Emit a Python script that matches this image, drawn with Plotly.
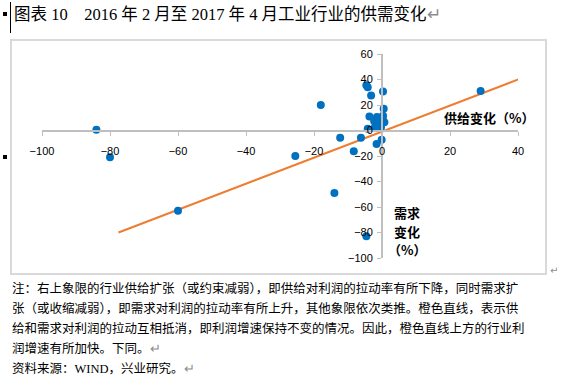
import plotly.graph_objects as go

# ---- data (supply change %, demand change %) ----
supply_change = [-84, -80, -60, -25.5, -18, -14, -12.3, -8.3, -6.2, -4.2, -4.6, -3.2, 0.3,
                 -3.7, 0.5, -1.8, -0.8, 0.2, 0.7, -0.8, -0.3, -4.2, -0.1, -1.6, -4.6, 29,
                 -2.3, -1.5, 0.3, -2.1]
demand_change = [0.5, -21, -63, -20, 20, -49, -5.7, -16.2, -5.7, 34, 35.5, 27.5, 30.6,
                 11, 17, 7.8, 9.2, 9.2, 6.5, 3.9, 2.6, 1.3, -7.3, -10.5, -83, 31,
                 7.3, 10.5, 11.5, 2.5]
line_x = [-77.5, 40.5]
line_y = [-80, 40.5]
x_ticks = [-100, -80, -60, -40, -20, 0, 20, 40]
y_ticks = [-100, -80, -60, -40, -20, 0, 20, 40, 60]

title_text = "图表 10　2016 年 2 月至 2017 年 4 月工业行业的供需变化"
x_title = "供给变化（%）"
y_title_lines = ["需求", "变化", "（%）"]
note_lines = [
    "注：右上象限的行业供给扩张（或约束减弱），即供给对利润的拉动率有所下降，同时需求扩",
    "张（或收缩减弱），即需求对利润的拉动率有所上升，其他象限依次类推。橙色直线，表示供",
    "给和需求对利润的拉动互相抵消，即利润增速保持不变的情况。因此，橙色直线上方的行业利",
    "润增速有所加快。下同。",
    "资料来源：WIND，兴业研究。",
]

W, H = 588, 389
L, R, T, B = 42, 518, 54, 258  # plot area in pixels


def px(x):
    return (x - L) / (R - L)


def py(y):
    return (B - y) / (B - T)


fig = go.Figure()
fig.add_trace(go.Scatter(x=line_x, y=line_y, mode="lines",
                         line=dict(color="#ED7D31", width=2), hoverinfo="skip"))
fig.add_trace(go.Scatter(x=supply_change, y=demand_change, mode="markers",
                         marker=dict(color="#0070C0", size=8)))

axis_font = dict(family="Arial, Liberation Sans, sans-serif", size=11, color="#000000")
xr = [min(x_ticks), max(x_ticks)]
yr = [min(y_ticks), max(y_ticks)]

fig.update_layout(
    width=W, height=H, autosize=False,
    paper_bgcolor="white", plot_bgcolor="white",
    showlegend=False,
    margin=dict(l=L, r=W - R, t=T, b=H - B, pad=0),
    xaxis=dict(range=xr, tickvals=x_ticks, anchor="free",
               position=(0 - yr[0]) / (yr[1] - yr[0]),
               showline=True, linecolor="#bfbfbf", linewidth=2,
               ticks="outside", ticklen=4, tickcolor="#bfbfbf", tickwidth=1,
               showgrid=False, zeroline=False, tickfont=axis_font,
               ticklabelstandoff=6, automargin=False),
    yaxis=dict(range=yr, tickvals=y_ticks, anchor="free",
               position=(0 - xr[0]) / (xr[1] - xr[0]),
               showline=True, linecolor="#bfbfbf", linewidth=2,
               ticks="outside", ticklen=4, tickcolor="#bfbfbf", tickwidth=1,
               showgrid=False, zeroline=False, tickfont=axis_font,
               ticklabelstandoff=2, automargin=False),
)

cjk = "Liberation Serif, Noto Sans CJK SC, sans-serif"
cjk_sans = "Noto Sans CJK SC, sans-serif"
gray_ret = "<span style='color:#8c8c8c'>↵</span>"

# chart frame
fig.add_shape(type="rect", xref="paper", yref="paper",
              x0=px(11), x1=px(546), y0=py(274), y1=py(40),
              line=dict(color="#d9d9d9", width=2), layer="below")
# bullets and cursor line
for yy in (14, 157):
    fig.add_shape(type="rect", xref="paper", yref="paper",
                  x0=px(3), x1=px(7), y0=py(yy + 2), y1=py(yy - 2),
                  line=dict(width=0), fillcolor="black")
fig.add_shape(type="line", xref="paper", yref="paper",
              x0=px(10.5), x1=px(10.5), y0=py(33), y1=py(2),
              line=dict(color="black", width=1))

# title
fig.add_annotation(xref="paper", yref="paper", x=px(12), y=py(14),
                   xanchor="left", yanchor="middle", showarrow=False,
                   text=title_text + gray_ret,
                   font=dict(family=cjk, size=16.5, color="black"))

# axis titles
fig.add_annotation(xref="paper", yref="paper", x=px(489), y=py(117),
                   xanchor="center", yanchor="middle", showarrow=False,
                   text="<b>" + x_title + "</b>",
                   font=dict(family=cjk_sans, size=13, color="black"))
for txt, yy in zip(y_title_lines, [212, 231, 249]):
    fig.add_annotation(xref="paper", yref="paper", x=px(407), y=py(yy),
                       xanchor="center", yanchor="middle", showarrow=False,
                       text="<b>" + txt + "</b>",
                       font=dict(family=cjk_sans, size=13, color="black"))

# return mark at frame corner
fig.add_annotation(xref="paper", yref="paper", x=px(548), y=py(270),
                   xanchor="left", yanchor="middle", showarrow=False,
                   text=gray_ret, font=dict(family="DejaVu Sans", size=10))

# notes
note_y = [288, 308, 328, 348, 368]
for i, (line, yy) in enumerate(zip(note_lines, note_y)):
    txt = line + (gray_ret if i >= 3 else "")
    fig.add_annotation(xref="paper", yref="paper", x=px(10), y=py(yy),
                       xanchor="left", yanchor="middle", showarrow=False,
                       text=txt, font=dict(family=cjk, size=12.5, color="black"))

fig.write_html("out.html", config={"displayModeBar": False},
               post_script="document.body.style.margin='0';")
